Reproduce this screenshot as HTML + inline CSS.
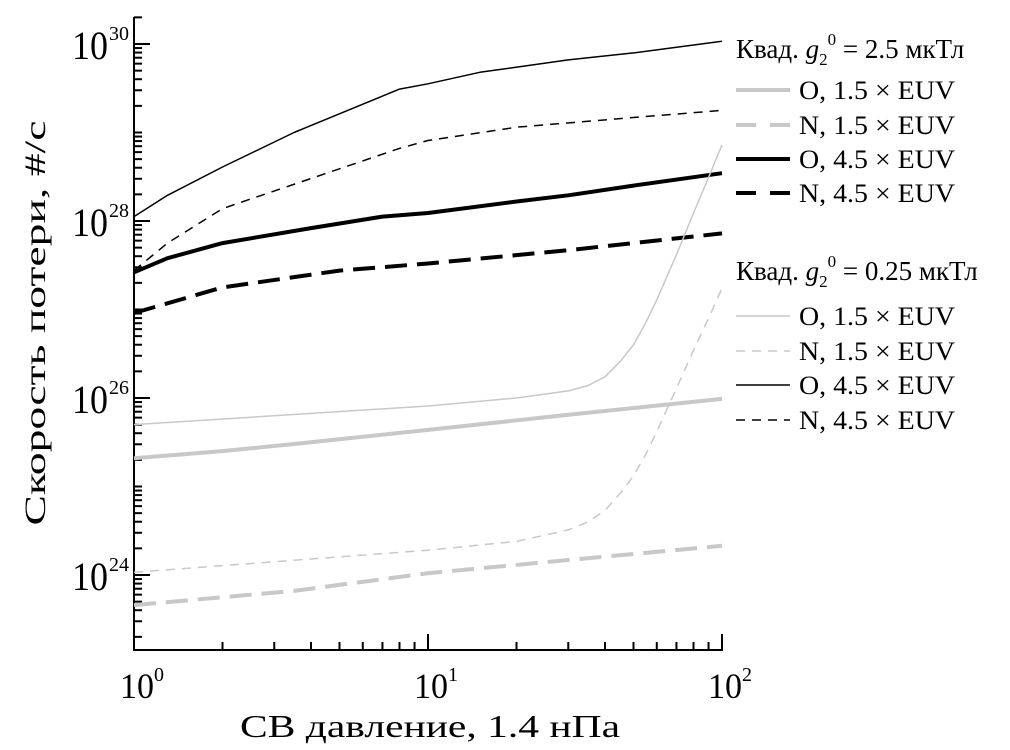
<!DOCTYPE html>
<html><head><meta charset="utf-8"><style>
html,body{margin:0;padding:0;background:#fff}
svg{display:block;font-family:"Liberation Serif","DejaVu Serif",serif}
</style></head><body>
<svg id="chart" width="1010" height="750" viewBox="0 0 1010 750" xmlns="http://www.w3.org/2000/svg">
<g id="axes"></g>
<g id="series"></g>
<g id="legend"></g>
<text x="430" y="737" font-size="32" text-anchor="middle" textLength="380" lengthAdjust="spacingAndGlyphs">СВ давление, 1.4 нПа</text>
<text transform="translate(45,323) rotate(-90)" font-size="30" text-anchor="middle" textLength="405" lengthAdjust="spacingAndGlyphs">Скорость потери, #/с</text>
</svg>
<script>
// x values (pressure multiples) and log10(loss rate) for each series
const xO15a=[1,2,3.5,10,30,100];
const yO15a=[25.32,25.40,25.48,25.64,25.81,25.99];
const xN15a=[1,3.5,10,30,100];
const yN15a=[23.66,23.82,24.02,24.17,24.33];
const xO45a=[1,1.3,2,4,7,10,20,30,50,100];
const yO45a=[27.42,27.58,27.75,27.92,28.05,28.09,28.22,28.29,28.40,28.54];
const xN45a=[1,1.3,2,5,10,30,100];
const yN45a=[26.96,27.07,27.25,27.44,27.52,27.67,27.86];
const xO15b=[1,10,20,30,35,40,45,50,55,60,70,80,90,100];
const yO15b=[25.70,25.91,26.00,26.08,26.14,26.24,26.41,26.60,26.85,27.11,27.62,28.09,28.49,28.86];
const xN15b=[1,10,20,30,35,40,45,50,55,60,70,80,90,100];
const yN15b=[24.03,24.28,24.38,24.51,24.60,24.73,24.92,25.12,25.36,25.62,26.11,26.54,26.90,27.24];
const xO45b=[1,1.3,2,3.5,8,10,15,30,50,100];
const yO45b=[28.05,28.29,28.61,29.00,29.49,29.55,29.68,29.82,29.90,30.03];
const xN45b=[1,1.3,2,4,8,10,20,50,100];
const yN45b=[27.44,27.75,28.14,28.48,28.82,28.91,29.06,29.17,29.25];
const yTickExps=[24,26,28,30];
const xTickExps=[0,1,2];

const NS="http://www.w3.org/2000/svg";
const X0=134,X1=722,YTOP=17,YBOT=650;
const sx=v=>X0+(Math.log10(v))*(X1-X0)/2;
const sy=l=>44+(30-l)*88.5;
function mk(tag,attrs,parent){const e=document.createElementNS(NS,tag);for(const k in attrs)e.setAttribute(k,attrs[k]);parent.appendChild(e);return e;}
const axes=document.getElementById('axes');
let a=mk('path',{d:`M${X0},${YTOP}V${YBOT}H${X1}V${YBOT-16}`,fill:'none',stroke:'#000','stroke-width':2},axes);


for(let e=23;e<=30;e++){for(let m=1;m<=9;m++){const l=e+Math.log10(m);const y=sy(l);if(y<YTOP||y>YBOT)continue;
 const t=mk('line',{x1:X0,x2:X0+(m===1&&e%2===0?16:8),y1:y,y2:y,stroke:'#000','stroke-width':2},axes);
 
 }}
yTickExps.forEach(e=>{const y=sy(e);
 const t=mk('text',{x:72,y:y+15,'font-size':40,textLength:36,lengthAdjust:'spacingAndGlyphs'},axes);
 
 
 t.textContent='10';
 const s=mk('text',{x:109,y:y-4,'font-size':20},axes);
 
 
 s.textContent=e;});
for(let e=0;e<2;e++){for(let m=1;m<=10;m++){const x=sx(m*Math.pow(10,e));if(m===1&&e===0)continue;
 const t=mk('line',{x1:x,x2:x,y1:YBOT,y2:YBOT-(m===10?16:8),stroke:'#000','stroke-width':2},axes);
 
 }}
xTickExps.forEach(e=>{const x=sx(Math.pow(10,e));
 const t=mk('text',{x:x-14,y:698,'font-size':36,textLength:34,lengthAdjust:'spacingAndGlyphs'},axes);
 
 
 t.textContent='10';
 const s=mk('text',{x:x+20,y:681,'font-size':20},axes);
 
 
 s.textContent=e;});
const series=[
 ['o-1.5-euv-2.5',xO15a,yO15a,'#c8c8c8',4,''],
 ['n-1.5-euv-2.5',xN15a,yN15a,'#c8c8c8',4,'22 10'],
 ['o-4.5-euv-2.5',xO45a,yO45a,'#000',4,''],
 ['n-4.5-euv-2.5',xN45a,yN45a,'#000',4,'22 10'],
 ['o-1.5-euv-0.25',xO15b,yO15b,'#c8c8c8',1.5,''],
 ['n-1.5-euv-0.25',xN15b,yN15b,'#c8c8c8',1.5,'9 7'],
 ['o-4.5-euv-0.25',xO45b,yO45b,'#000',1.5,''],
 ['n-4.5-euv-0.25',xN45b,yN45b,'#000',1.5,'9 7']];
const sg=document.getElementById('series');
series.forEach(s=>{const d=s[1].map((v,i)=>(i?'L':'M')+sx(v).toFixed(1)+','+sy(s[2][i]).toFixed(1)).join('');
 const p=mk('path',{d:d,fill:'none',stroke:s[3],'stroke-width':s[4],'stroke-linejoin':'round'},sg);
 if(s[5])p.setAttribute('stroke-dasharray',s[5]);
 
 });
const lg=document.getElementById('legend');
const groups=[['2.5',58,[90,125,159,193]],['0.25',280,[316,351,385,420]]];
const labels=['O, 1.5 × EUV','N, 1.5 × EUV','O, 4.5 × EUV','N, 4.5 × EUV'];
groups.forEach((g,gi)=>{const t=mk('text',{x:736,y:g[1],'font-size':27},lg);
 
 
 t.innerHTML='Квад. <tspan font-style="italic">g</tspan><tspan dy="7" font-size="17">2</tspan><tspan dy="-20" font-size="17">0</tspan><tspan dy="13"> = '+g[0]+' мкТл</tspan>';
 g[2].forEach((y,i)=>{const s=series[gi*4+i];
  const l=mk('line',{x1:736,x2:790,y1:y,y2:y,stroke:s[3],'stroke-width':s[4]},lg);
  if(s[5])l.setAttribute('stroke-dasharray',gi?'9 7':'20 14');
  
  
  const tx=mk('text',{x:799,y:y+9,'font-size':26,textLength:156,lengthAdjust:'spacingAndGlyphs'},lg);
  
  
  tx.textContent=labels[i];});});
</script>
</body></html>
